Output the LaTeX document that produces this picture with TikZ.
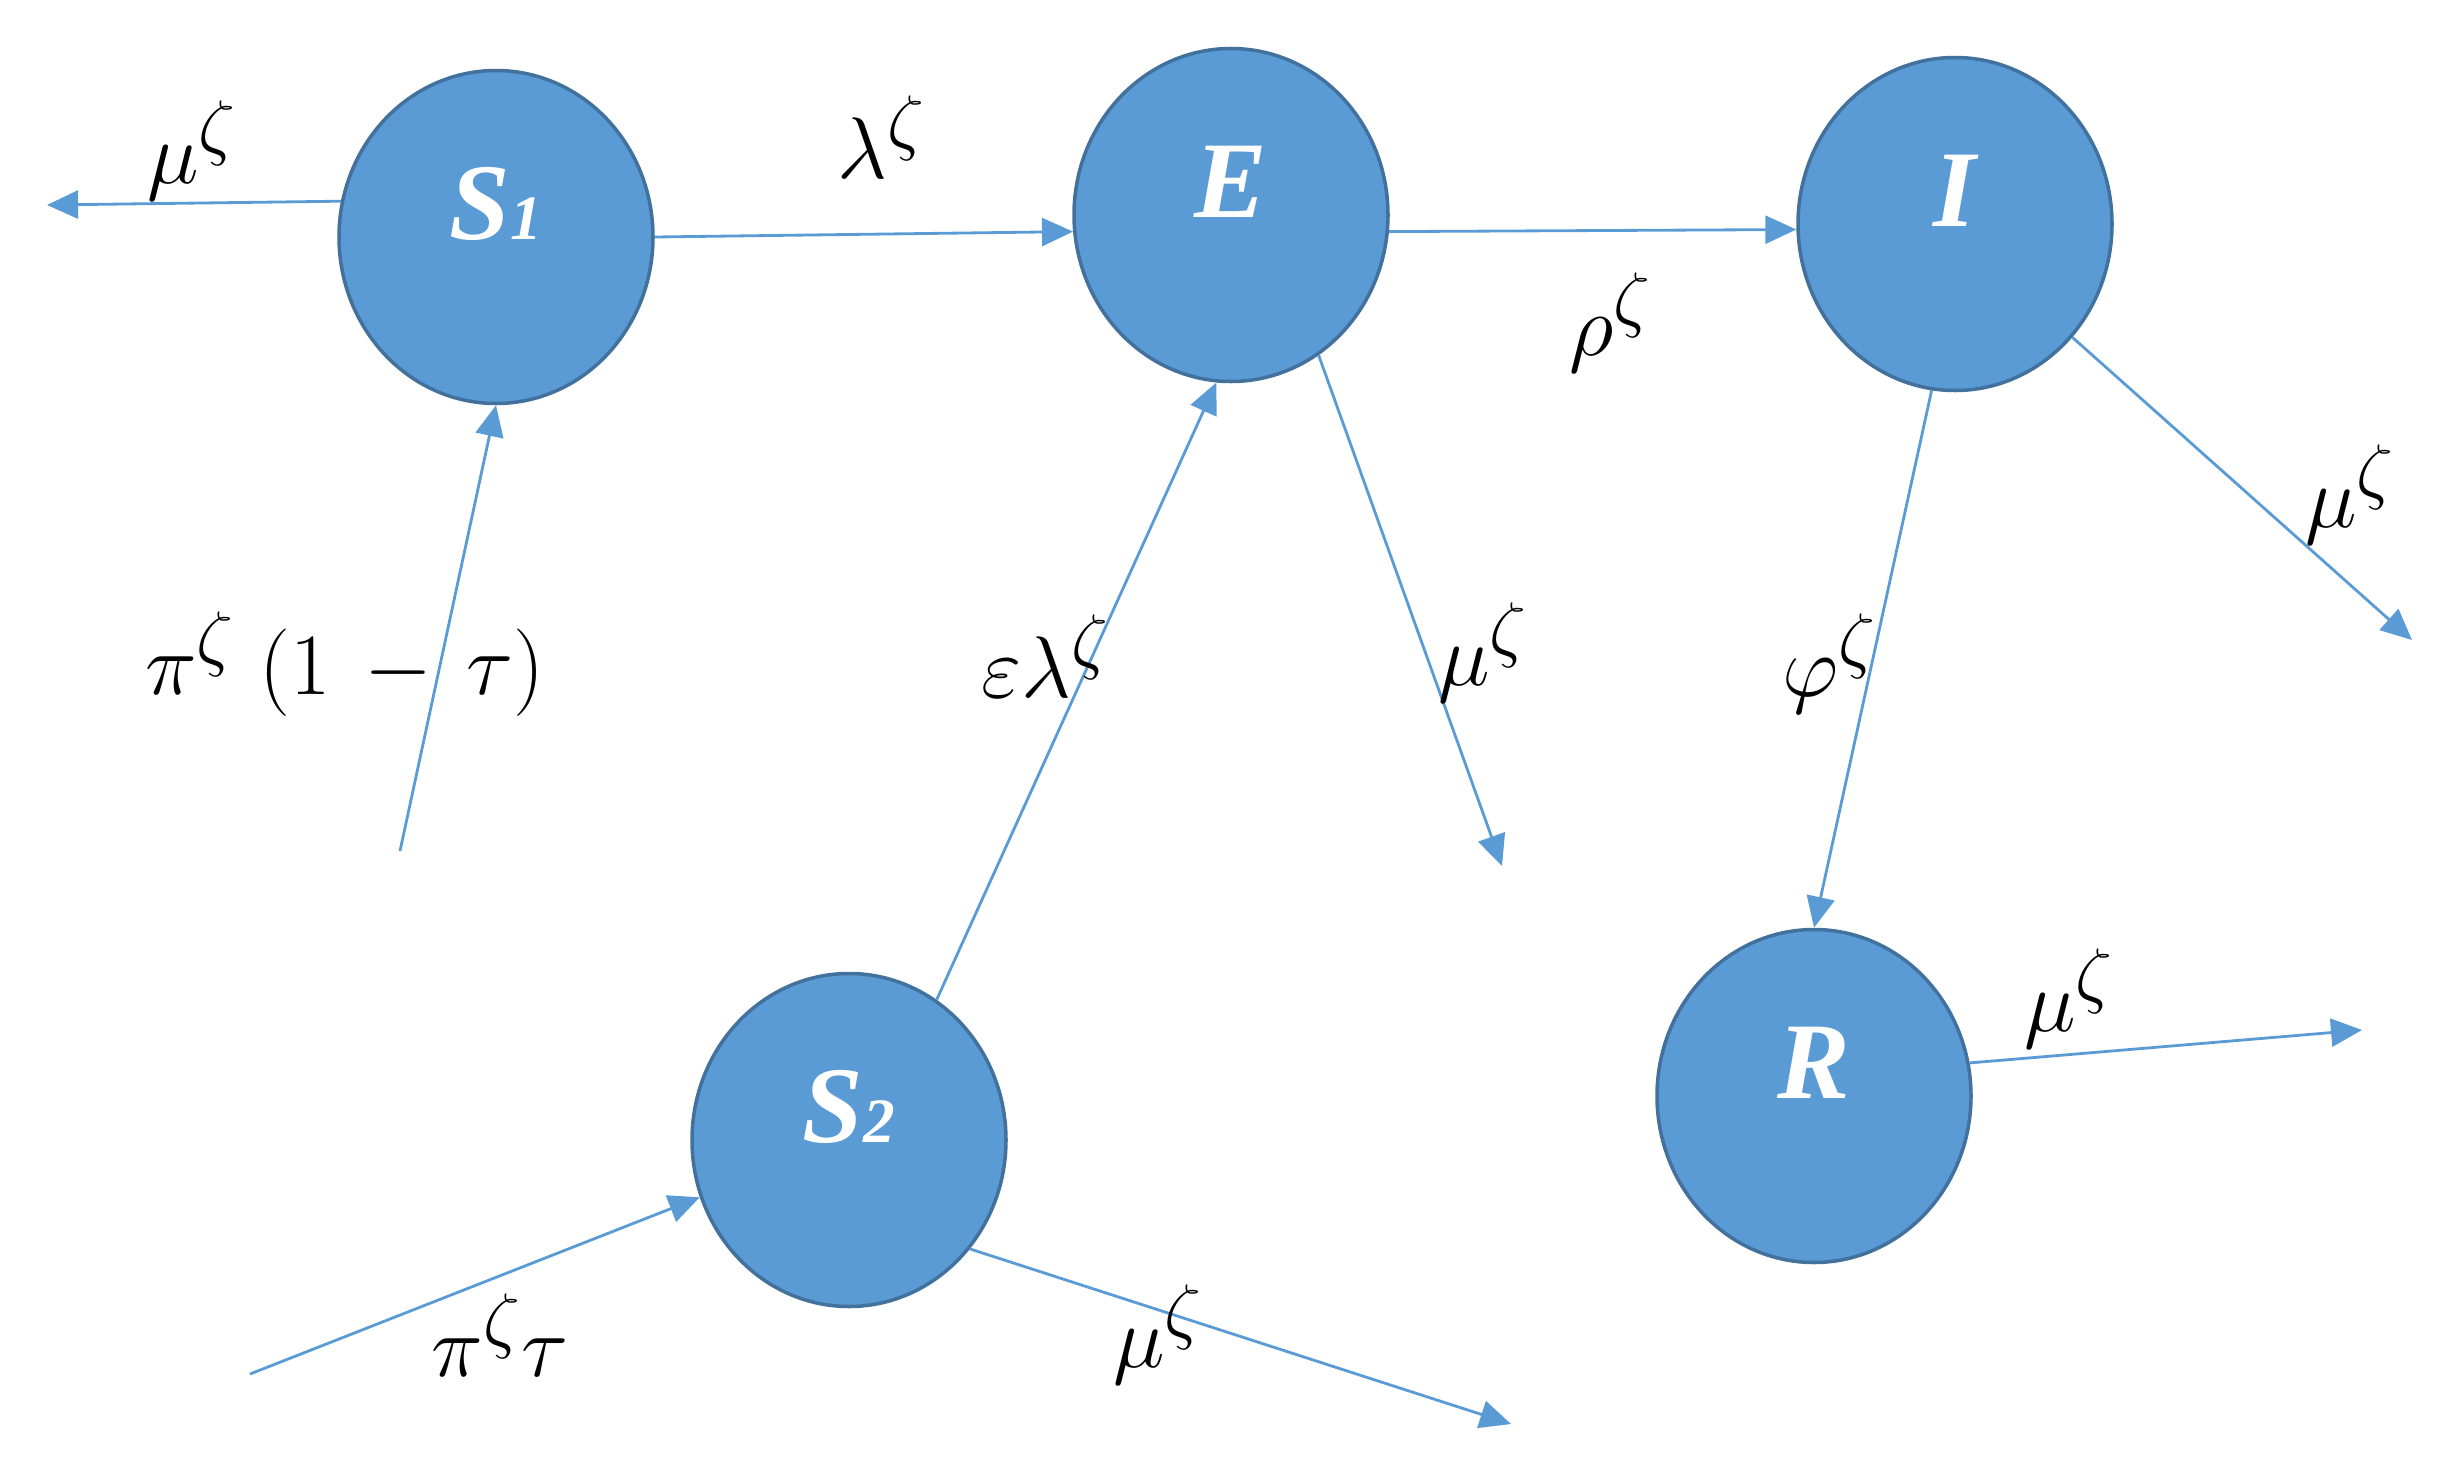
\documentclass[tikz,border=0pt]{standalone}
\usepackage{fontspec}
\newfontfamily\compfont{Liberation Serif}
\usepackage{xcolor}
\definecolor{compblue}{HTML}{5B9BD5}
\definecolor{compedge}{HTML}{41719C}
\usetikzlibrary{shapes.geometric,arrows.meta}

\begin{document}
\begin{tikzpicture}[x=0.1mm,y=-0.1mm,
  comp/.style={ellipse,fill=compblue,draw=compedge,line width=1pt,
    minimum width=31.4mm,minimum height=33.3mm,inner sep=0pt},
  compname/.style={text=white,yshift=3.3mm,
    font=\compfont\fontsize{31}{34}\selectfont\bfseries\itshape},
  flow/.style={compblue,line width=0.8pt,-{Triangle[length=3.1mm,width=2.8mm]}},
  rate/.style={font=\fontsize{30}{34}\selectfont,inner sep=0pt}]
  \useasboundingbox (0,0) rectangle (2448,1465);
  % compartments
  \node[comp,label={[compname]center:S{\fontsize{18}{20}\selectfont 1}}] (S1) at (496,237) {};
  \node[comp,label={[compname]center:E}] (E) at (1231,215) {};
  \node[comp,label={[compname]center:I}] (I) at (1955,224) {};
  \node[comp,label={[compname]center:S{\fontsize{18}{20}\selectfont 2}}] (S2) at (849,1140) {};
  \node[comp,label={[compname]center:R}] (R) at (1814,1096) {};
  % free ends
  \coordinate (s1out) at (47,205);
  \coordinate (s1in) at (400,851);
  \coordinate (s2in) at (250,1374);
  \coordinate (s2out) at (1511,1424);
  \coordinate (eout) at (1502,866);
  \coordinate (iout) at (2412,640);
  \coordinate (rout) at (2362,1030);
  % flows
  \draw[flow] (S1.167) -- (s1out);
  \draw[flow] (s1in) -- (S1.south);
  \draw[flow] (S1.east) -- (E.186);
  \draw[flow] (E.354) -- (I.182);
  \draw[flow] (E.-58) -- (eout);
  \draw[flow] (I.-44) -- (iout);
  \draw[flow] (I.-98) -- (R.north);
  \draw[flow] (R.12) -- (rout);
  \draw[flow] (S2.58) -- (E.-95);
  \draw[flow] (S2.-42) -- (s2out);
  \draw[flow] (s2in) -- (S2.201);
  % rates
  \node[rate] (ms1) at (192,151) {$\mu^\zeta$};
  \node[rate] (lam) at (882,137) {$\lambda^\zeta$};
  \node[rate] (rho) at (1611,323) {$\rho^\zeta$};
  \node[rate] (pis1) at (345,664) {$\pi^\zeta\;(1\,-\,\tau)$};
  \node[rate] (elam) at (1046,656) {$\varepsilon\lambda^\zeta$};
  \node[rate] (me) at (1483,653) {$\mu^\zeta$};
  \node[rate] (phi) at (1830,664) {$\varphi^\zeta$};
  \node[rate] (mi) at (2350,495) {$\mu^\zeta$};
  \node[rate] (mr) at (2069,999) {$\mu^\zeta$};
  \node[rate] (pis2) at (500,1335) {$\pi^\zeta\tau$};
  \node[rate] (ms2) at (1158,1335) {$\mu^\zeta$};
\end{tikzpicture}
\end{document}
